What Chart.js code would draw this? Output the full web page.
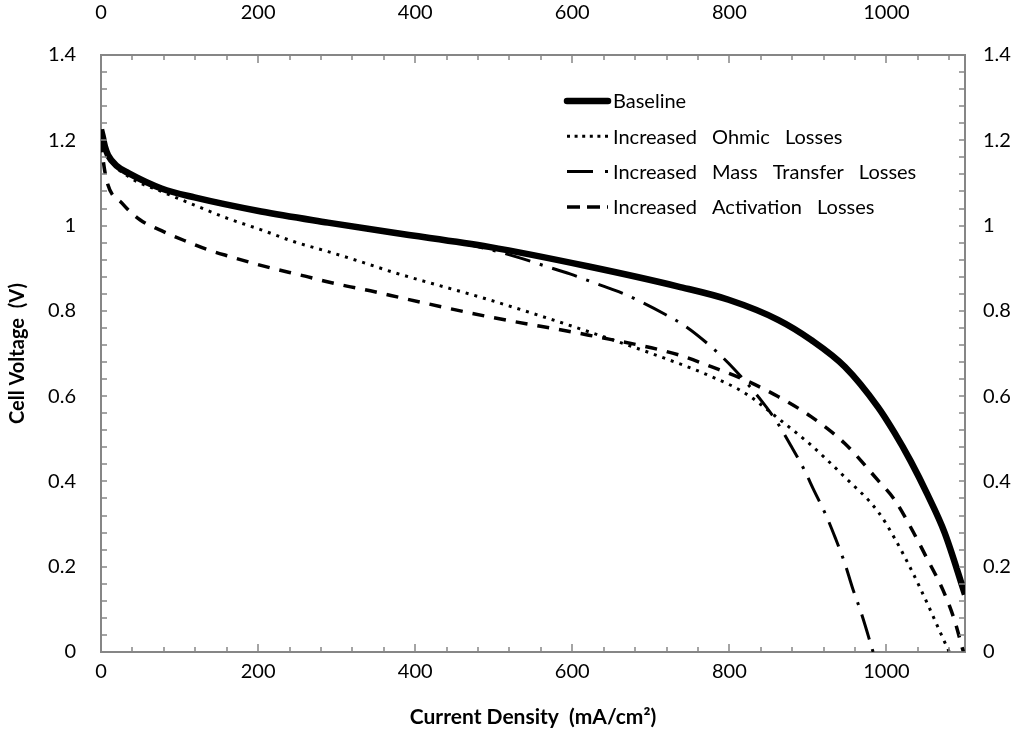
<!DOCTYPE html>
<html lang="en">
<head>
<meta charset="UTF-8">
<title>Polarization curves</title>
<script src="https://cdn.jsdelivr.net/npm/chart.js"></script>
<style>
    body { margin: 0; background: #fff; }
    #wrap { width: 1029px; height: 746px; position: relative; }
</style>
</head>
<body>
<div id="wrap"><canvas id="polChart"></canvas></div>
<script>
// current density (mA/cm2) and cell voltage (V)
const baselineX = [0, 2, 5, 9, 20, 35, 77, 119, 204, 289, 373, 494, 621, 735, 799, 862, 904, 947, 989, 1010, 1031, 1052, 1074, 1100];
const baselineY = [1.225, 1.21, 1.185, 1.165, 1.14, 1.123, 1.087, 1.066, 1.033, 1.007, 0.983, 0.950, 0.904, 0.857, 0.826, 0.779, 0.732, 0.669, 0.575, 0.515, 0.447, 0.370, 0.280, 0.135];

const ohmicX = [0, 4, 10, 35, 77, 119, 161, 204, 246, 289, 331, 373, 494, 621, 735, 777, 820, 862, 904, 947, 989, 1010, 1031, 1053, 1070, 1080];
const ohmicY = [1.225, 1.19, 1.16, 1.115, 1.080, 1.048, 1.017, 0.990, 0.962, 0.939, 0.915, 0.890, 0.826, 0.751, 0.677, 0.646, 0.607, 0.548, 0.485, 0.410, 0.330, 0.268, 0.195, 0.110, 0.040, 0.0];

const massX = [0, 2, 5, 9, 20, 35, 77, 119, 204, 289, 373, 440, 490, 530, 564, 598, 629, 659, 690, 718, 744, 773, 799, 841, 861, 878, 894, 908, 923, 935, 947, 957, 968, 983];
const massY = [1.225, 1.21, 1.185, 1.165, 1.14, 1.123, 1.087, 1.066, 1.033, 1.007, 0.983, 0.964, 0.946, 0.926, 0.906, 0.886, 0.865, 0.845, 0.819, 0.792, 0.764, 0.722, 0.677, 0.589, 0.538, 0.485, 0.432, 0.378, 0.321, 0.267, 0.208, 0.149, 0.091, 0.0];

const activationX = [0, 3, 8, 27, 50, 77, 106, 135, 165, 195, 224, 254, 284, 313, 343, 369, 494, 621, 735, 777, 820, 862, 904, 947, 989, 1010, 1031, 1052, 1072, 1086, 1098];
const activationY = [1.20, 1.15, 1.10, 1.052, 1.013, 0.988, 0.965, 0.944, 0.927, 0.911, 0.897, 0.884, 0.870, 0.858, 0.847, 0.836, 0.786, 0.743, 0.697, 0.669, 0.638, 0.599, 0.552, 0.489, 0.403, 0.358, 0.292, 0.218, 0.145, 0.078, 0.0];

const seriesNames = ['Baseline', 'Increased Ohmic Losses', 'Increased Mass Transfer Losses', 'Increased Activation Losses'];

const xMin = 0, xMax = 1100, xMajor = 200, xMinor = 40;
const yMin = 0, yMax = 1.4, yMajor = 0.2, yMinor = 0.04;

const axisGray = '#868686';
const fontFamily = 'Lato, "Open Sans", sans-serif';

function pts(xs, ys) {
    return xs.map((x, i) => ({ x: x, y: ys[i] }));
}

// Excel-style tick marks pointing into the plot
const insideTicks = {
    id: 'insideTicks',
    afterDraw(chart) {
        const { ctx, chartArea: a } = chart;
        ctx.save();
        ctx.strokeStyle = axisGray;
        ctx.lineWidth = 1.5;
        ctx.setLineDash([]);
        ctx.beginPath();
        ['x', 'x2'].forEach(id => {
            const s = chart.scales[id];
            const base = id === 'x' ? a.bottom : a.top;
            const dir = id === 'x' ? -1 : 1;
            for (let k = 0; k * xMinor <= xMax + 1e-6; k++) {
                const v = k * xMinor;
                const px = Math.round(s.getPixelForValue(v));
                const len = v % xMajor === 0 ? 8 : 5;
                ctx.moveTo(px, base);
                ctx.lineTo(px, base + dir * len);
            }
        });
        ['y', 'y2'].forEach(id => {
            const s = chart.scales[id];
            const base = id === 'y' ? a.left : a.right;
            const dir = id === 'y' ? 1 : -1;
            for (let k = 0; k * yMinor <= yMax + 1e-6; k++) {
                const py = Math.round(s.getPixelForValue(k * yMinor));
                ctx.moveTo(base, py);
                ctx.lineTo(base + dir * 6, py);
            }
        });
        ctx.stroke();
        ctx.restore();
    }
};

// legend drawn inside the plot, upper right
const insideLegend = {
    id: 'insideLegend',
    afterDraw(chart) {
        const { ctx, chartArea: a } = chart;
        const x0 = a.left + 466, y0 = a.top + 46, gap = 35.3;
        ctx.save();
        ctx.font = '20px ' + fontFamily;
        ctx.wordSpacing = '10px';
        ctx.textBaseline = 'middle';
        chart.data.datasets.forEach((ds, i) => {
            const y = y0 + i * gap;
            ctx.beginPath();
            ctx.setLineDash(ds.legendDash);
            ctx.lineCap = i === 0 ? 'round' : 'butt';
            ctx.lineWidth = ds.borderWidth;
            ctx.strokeStyle = ds.borderColor;
            ctx.moveTo(x0, y);
            ctx.lineTo(x0 + 41, y);
            ctx.stroke();
            ctx.setLineDash([]);
            ctx.fillStyle = '#000';
            ctx.fillText(ds.label, x0 + 46, y + 1);
        });
        ctx.restore();
    }
};

const common = { pointRadius: 0, fill: false, cubicInterpolationMode: 'monotone', borderColor: '#000' };

new Chart(document.getElementById('polChart'), {
    type: 'line',
    data: {
        datasets: [
            Object.assign({}, common, { label: seriesNames[0], data: pts(baselineX, baselineY), borderWidth: 6.5, borderDash: [], legendDash: [] }),
            Object.assign({}, common, { label: seriesNames[1], data: pts(ohmicX, ohmicY), borderWidth: 3, borderDash: [3, 6], legendDash: [3, 4.6] }),
            Object.assign({}, common, { label: seriesNames[2], data: pts(massX, massY), borderWidth: 3, borderDash: [26, 10, 3, 10], legendDash: [26, 12, 3, 20] }),
            Object.assign({}, common, { label: seriesNames[3], data: pts(activationX, activationY), borderWidth: 3.5, borderDash: [12, 10], legendDash: [13, 7] })
        ]
    },
    options: {
        responsive: true,
        maintainAspectRatio: false,
        devicePixelRatio: 1,
        animation: false,
        layout: { padding: 0 },
        plugins: { legend: { display: false }, tooltip: { enabled: false } },
        scales: {
            x: {
                type: 'linear', position: 'bottom', min: xMin, max: xMax,
                grid: { display: false, drawTicks: false },
                border: { display: true, color: axisGray, width: 2 },
                ticks: { stepSize: xMajor, includeBounds: false, autoSkip: false, maxRotation: 0, padding: 8,
                         color: '#000', font: { size: 20, family: fontFamily }, callback: v => String(v) },
                title: { display: true, text: 'Current Density  (mA/cm²)', color: '#000',
                         font: { size: 21, weight: 'bold', family: fontFamily }, padding: { top: 0, bottom: 16 } },
                afterFit: s => { s.height = 94; }
            },
            x2: {
                type: 'linear', position: 'top', min: xMin, max: xMax,
                grid: { display: false, drawTicks: false },
                border: { display: true, color: axisGray, width: 2 },
                ticks: { stepSize: xMajor, includeBounds: false, autoSkip: false, maxRotation: 0, padding: 30,
                         color: '#000', font: { size: 20, family: fontFamily }, callback: v => String(v) },
                afterFit: s => { s.height = 55; }
            },
            y: {
                type: 'linear', position: 'left', min: yMin, max: yMax,
                grid: { display: false, drawTicks: false },
                border: { display: true, color: axisGray, width: 2 },
                ticks: { stepSize: yMajor, autoSkip: false, padding: 25, color: '#000',
                         font: { size: 20, family: fontFamily }, callback: v => String(Math.round(v * 10) / 10) },
                title: { display: true, text: 'Cell Voltage  (V)', color: '#000',
                         font: { size: 20, weight: 'bold', family: fontFamily }, padding: { top: 6, bottom: 0 } },
                afterFit: s => { s.width = 101; }
            },
            y2: {
                type: 'linear', position: 'right', min: yMin, max: yMax,
                grid: { display: false, drawTicks: false },
                border: { display: true, color: axisGray, width: 2 },
                ticks: { stepSize: yMajor, autoSkip: false, padding: 18, color: '#000',
                         font: { size: 20, family: fontFamily }, callback: v => String(Math.round(v * 10) / 10) },
                afterFit: s => { s.width = 64; }
            }
        }
    },
    plugins: [insideTicks, insideLegend]
});
</script>
</body>
</html>
